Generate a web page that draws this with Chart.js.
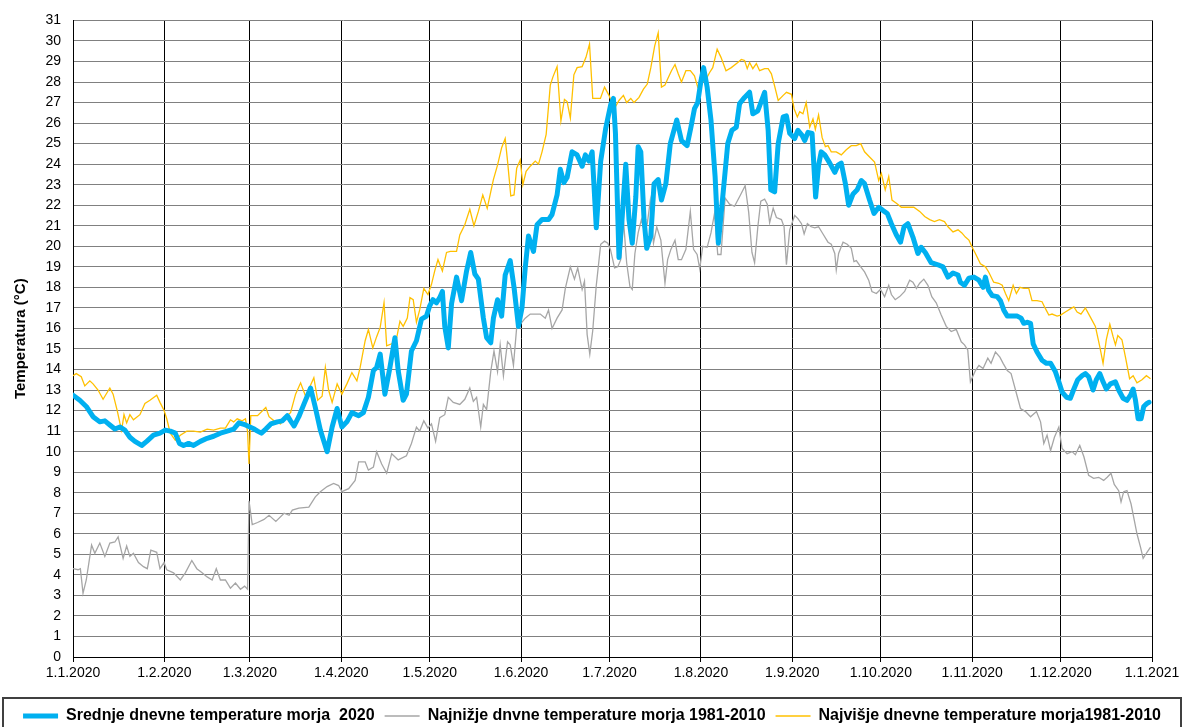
<!DOCTYPE html>
<html>
<head>
<meta charset="utf-8">
<script src="https://cdn.jsdelivr.net/npm/chart.js@4.4.1/dist/chart.umd.min.js"></script>
<style>
  html, body { margin:0; padding:0; background:#fff; overflow:hidden; }
  #wrap { width:1184px; height:727px; overflow:hidden; }
</style>
</head>
<body>
<div id="wrap"><canvas id="seaChart" width="1184" height="734"></canvas></div>
<script>
// x = day of year (0 = 1.1.2020)
const monthDays = [0, 31, 60, 91, 121, 152, 182, 213, 244, 274, 305, 335, 366];
const monthLabels = ['1.1.2020','1.2.2020','1.3.2020','1.4.2020','1.5.2020','1.6.2020','1.7.2020',
  '1.8.2020','1.9.2020','1.10.2020','1.11.2020','1.12.2020','1.1.2021'];

const seriesNames = ['Srednje dnevne temperature morja  2020',
  'Najnižje dnvne temperature morja 1981-2010',
  'Najvišje dnevne temperature morja1981-2010'];

// Srednje 2020
const meanDays = [0,2.3,4.5,6.8,9.1,10.8,12.5,14.2,15.9,17.6,19.3,21,23.3,25,27.3,29.5,31.3,33,34.7,36.1,37.5,39.2,40.9,43.2,45.5,47.7,50,52.3,54.5,56.3,58.5,
  60,61.5,62.6,63.9,65.4,67.1,69.3,71,72.7,73.8,75,76.6,78.3,80.6,82.2,83.9,86.2,87.9,89.6,91.2,92.9,94.6,96.9,98.5,100.2,101.9,103,104.2,105.8,107.5,109.2,110.3,112,113.1,114.8,116.5,118.2,119.9,121,
  122.1,123.3,124.4,125.3,126.1,127.3,128.4,130.1,131.8,133.5,134.9,136.3,137.5,139.2,140.3,141.7,142.6,144,145.4,146.6,148.3,149.6,151.1,152.3,153.4,154.5,156.2,157.4,159.1,161.3,162.5,164.2,165.3,166.5,167.6,169.3,171,172.7,173.8,175,176.1,177.5,179,180.7,182.4,183.3,
  184,185.2,186.3,187.5,188.6,189.7,190.9,191.7,192.6,193.7,194.6,196,197.1,198.5,199.6,201.1,202.6,204.8,206.4,208.3,209.6,210.8,211.9,213,213.9,215.1,216.4,217.8,218.9,220.1,222.1,223.5,225,226.1,227.8,229.5,230.6,232.3,234.6,235.8,236.7,238,239.2,240.9,242,243.1,
  244.8,245.9,247.3,248.2,249.3,250.7,251.9,252.9,253.8,255,256.7,258.4,259.5,260.6,262,263.1,264.6,266,267.4,268.5,270.2,271.7,273.3,274.7,276.2,277.6,279.3,280.7,281.9,283.2,284.9,286.6,287.7,289.1,291.1,293.4,295.1,296.8,298.5,300.2,
  301,302.4,303.9,305.6,307.3,308.7,309.5,310.6,311.8,313.5,314.6,315.7,316.9,318.6,320.3,321.6,322.5,323.6,324.8,325.7,327,328.7,330.2,331.6,333.2,334.4,335.5,337,338.3,339.5,340.8,342.3,343.4,344.5,346,347.1,348.3,349.4,350.5,351.9,353.6,354.7,356.2,357.5,358.7,359.6,360.4,361.3,362.3,363.2,364.3,365];
const meanTemp = [12.75,12.5,12.2,11.7,11.45,11.5,11.3,11.1,11.2,11.05,10.7,10.5,10.3,10.5,10.8,10.9,11.05,11.0,10.9,10.4,10.3,10.4,10.3,10.5,10.65,10.75,10.9,11.0,11.1,11.4,11.3,
  11.2,11.1,11.0,10.9,11.1,11.35,11.45,11.5,11.75,11.5,11.25,11.7,12.3,13.1,12.15,11.05,10.0,11.2,12.1,11.2,11.45,11.9,11.75,11.9,12.65,13.95,14.1,14.75,12.8,14.1,15.55,13.95,12.5,12.8,14.9,15.4,16.45,16.6,17.1,
  17.4,17.25,17.5,17.8,16.1,15.05,17.2,18.5,17.35,18.8,19.7,18.65,18.4,16.5,15.55,15.3,16.5,17.4,16.6,18.6,19.3,18.0,16.1,17.0,18.95,20.5,19.75,21.05,21.3,21.3,21.55,22.5,23.75,23.1,23.35,24.6,24.45,23.9,24.45,24.15,24.6,20.9,24.15,25.75,26.9,27.2,
  25.5,19.45,21.45,24.0,21.3,20.15,22.4,24.85,24.6,21.3,19.9,20.5,23.05,23.25,22.25,23.05,25.0,26.15,25.15,24.9,25.8,26.7,27.0,28.05,28.7,27.75,26.15,23.4,20.15,21.95,25.0,25.65,25.8,26.95,27.25,27.5,26.45,26.6,27.5,25.65,22.75,22.65,25.0,26.3,26.35,25.5,
  25.25,25.65,25.4,25.15,25.55,25.5,22.4,23.95,24.6,24.45,24.05,23.6,23.95,24.05,23.05,22.0,22.55,22.75,23.2,23.05,22.25,21.6,21.9,21.75,21.6,21.1,20.55,20.2,20.95,21.1,20.45,19.65,19.95,19.7,19.2,19.1,19.0,18.5,18.7,18.6,
  18.25,18.1,18.45,18.5,18.35,18.0,18.5,17.85,17.6,17.55,17.35,16.9,16.6,16.6,16.6,16.5,16.25,16.3,16.25,15.25,14.85,14.45,14.3,14.3,13.9,13.4,12.9,12.65,12.6,13.05,13.5,13.7,13.8,13.65,13.0,13.5,13.8,13.4,13.05,13.3,13.4,13.0,12.6,12.5,12.75,13.05,12.5,11.6,11.6,12.2,12.35,12.4];

// Najnižje 1981-2010
const minDays = [0,1.7,2.5,3.4,4.5,6.3,7.4,9.1,10.8,12.5,14.2,15.3,17,18.2,19.3,20.5,22.2,23.9,25.2,26.4,28.4,29.5,30.9,31.8,34.1,36.4,38.1,40.3,42,43.8,45.5,47.2,48.6,50,51.7,53.4,55.1,56.8,58.2,59.2,59.7,60.8,
  62.6,64.8,66.5,68.8,71.6,73.3,74.4,76.6,80,82.2,83.9,86.2,88.4,90.1,91.2,93.5,95.7,96.9,99.1,100.2,101.9,103,104.7,106.4,108.1,110.3,113.1,114.8,116.5,
  117.6,119,120.4,121.6,123,124.4,126.1,127.3,129,131.2,132.9,134.6,135.8,136.9,138.3,139.2,140.3,141.7,142.8,144,144.9,146,147.4,148.3,149.4,150.5,151.7,153.4,155.1,156.8,158.5,160.2,161.3,162.5,164.2,165.9,167,168.7,170.1,171.2,172.7,173.5,174.4,175.3,176.3,177.5,179,
  180.3,181.4,182.3,183.7,184.8,185.8,186.7,187.8,188.9,189.7,190.6,191.7,192.8,193.7,194.8,195.8,196.9,198,199.4,200.8,201.7,202.8,204.2,205.3,206.4,207.9,209.4,210.5,211.7,212.6,213.6,215.1,216.4,217.6,218.7,219.8,221.2,222.7,224.4,226.4,228,229.2,230.3,231.2,232.3,233.3,234.6,235.5,236.3,237.5,238.6,240.3,241.2,242,243.1,
  244.8,245.9,247.1,248,249.1,250.4,251.6,252.9,254.4,256.1,257.2,258.4,258.9,259.7,261.2,262.6,264,264.9,265.7,267.2,268.5,269.9,271,272.5,273.9,275.3,276.7,277.6,278.9,280.4,282.1,283.8,284.9,286.1,287.2,288.6,290,291.3,292.8,294.5,296.2,297.9,299.6,301.3,302.4,303.5,
  304.4,306.1,307.3,308.7,310.3,311.4,312.9,314.4,315.5,316.9,318.2,319.7,321.4,323.1,324.8,326.8,328.2,329.3,330.4,331.6,332.9,334.4,335.5,337.2,338.9,340,341.5,342.9,344.5,346.2,347.9,349.6,350.8,352.1,353.2,354.7,355.5,356.4,357.5,358.9,360,360.9,362.1,363,364.3,365.5];
const minTemp = [4.3,4.25,4.3,3.1,3.75,5.45,5.05,5.55,4.9,5.55,5.6,5.85,4.8,5.4,4.9,5.05,4.6,4.4,4.3,5.2,5.1,4.3,4.6,4.25,4.1,3.75,4.1,4.7,4.3,4.1,3.9,3.75,4.3,3.75,3.75,3.35,3.6,3.3,3.45,3.3,7.6,6.45,
  6.55,6.7,6.9,6.6,7.0,6.9,7.15,7.25,7.3,7.8,8.05,8.3,8.45,8.35,8.05,8.2,8.6,9.5,9.5,9.1,9.25,10.0,9.4,8.95,9.9,9.6,9.8,10.4,11.2,
  11.0,11.5,11.15,11.35,10.5,11.65,11.8,12.65,12.4,12.3,12.55,13.1,12.45,12.65,11.2,12.3,12.05,13.9,14.9,13.9,15.2,13.7,15.35,15.2,14.2,16.05,16.2,16.5,16.7,16.7,16.7,16.5,16.9,16.0,16.5,16.9,17.95,19.0,18.4,18.95,17.9,18.3,15.7,14.75,15.9,18.1,20.1,
  20.25,20.15,19.85,18.95,19.0,19.35,21.3,19.2,18.05,17.9,19.65,20.65,21.3,20.8,21.1,22.2,20.15,20.95,20.3,18.2,19.35,19.85,20.3,19.35,19.35,19.85,21.7,19.85,19.6,18.9,20.0,19.95,20.65,21.6,19.6,19.6,22.35,22.05,21.95,22.5,22.95,21.65,19.7,19.2,20.95,22.2,22.3,22.05,21.15,21.85,21.4,21.3,20.95,19.1,20.8,
  21.5,21.35,21.1,20.6,21.1,20.95,20.9,20.95,20.6,20.2,20.1,19.65,18.85,19.65,20.2,20.1,19.9,19.25,19.3,19.0,18.75,18.35,17.8,17.7,17.9,17.55,18.1,17.65,17.4,17.55,17.8,18.35,18.25,17.95,18.2,18.4,18.1,17.55,17.25,16.65,16.1,15.85,15.95,15.35,15.2,14.95,
  13.4,13.95,14.2,14.05,14.55,14.3,14.85,14.6,14.3,13.95,13.8,13.0,12.1,11.95,11.7,11.95,11.45,10.4,10.8,10.05,10.7,11.2,10.15,9.9,10.0,9.85,10.3,9.75,8.85,8.7,8.75,8.6,8.75,8.95,8.4,8.1,7.55,8.05,8.1,7.45,6.65,6.0,5.35,4.8,5.1,5.35];

// Najvišje 1981-2010
const maxDays = [0,1.1,2.8,4,5.7,6.8,8.5,10.2,12.5,13.6,15,15.9,16.5,17.3,18.2,19.3,20.5,22.7,24.4,26.1,28.4,29.5,30.9,31.8,33,34.7,36.4,38.6,40.9,43.2,45.5,47.7,50,51.7,53.4,54.5,55.7,57.4,58.5,59.2,59.7,60.3,
  62.6,65.4,66.5,68.2,70.4,72.1,73.8,75.5,77.2,78.9,80,81.7,83,84.5,85.6,86.7,87.9,89.6,91.2,92.9,94.6,96.3,97.4,99.1,100.2,101.7,103,104.2,105.5,106.4,108.1,109.8,110.9,112,113.4,114.3,115.4,116.5,
  117.6,119,120.4,121.6,122.7,123.8,125.3,126.7,128,130.1,131.2,132.9,134.6,136,137.5,139,140.5,141.7,142.6,144,145.4,146.6,147.4,148.5,149.6,150.5,151.7,152.6,153.7,155.1,156.8,157.9,159.1,160.5,161.9,162.8,164.2,165.5,166.7,167.6,168.7,169.9,171,172.7,174,175.2,176.3,177.8,
  178.9,180.3,181.8,182.9,184,185.2,186.7,187.8,189.2,190.3,192,193.5,194.8,196,197.3,198.5,199.6,200.8,201.7,203,204.2,205.3,206.4,207.9,209.4,210.8,211.9,213,214.4,215.9,217,218.5,219.8,221.5,223.3,225.5,226.7,227.8,228.7,229.5,230.6,231.8,232.9,234.6,235.8,236.9,238,239.2,240.9,242,243.7,
  244.6,245.7,246.5,247.6,248.7,249.9,251,251.8,252.9,254.1,255.2,256.1,257.2,258.9,260.6,262.3,264,265.7,267.2,268.5,270.2,271.9,273.3,274.2,275.5,276.7,277.8,279.3,281,283.2,285.2,287.2,288.9,290.6,292.2,293.9,295.6,296.8,298.5,300.2,
  301.5,302.7,303.9,305,306.1,307.8,309.5,310.6,312.3,314,315.2,316.3,317.4,318.9,320,321.2,322.5,324.2,325.3,327,328.7,329.9,331,332.1,333.8,335,336.6,338.3,339.5,340.6,341.9,343.4,345.1,346.8,348.3,349.4,350.5,351.7,352.8,353.6,354.4,355.8,357,358.4,359.6,360.9,362.6,364.1,365.5];
const maxTemp = [13.7,13.8,13.65,13.2,13.45,13.3,13.0,12.55,13.1,12.8,12.0,11.4,11.05,11.8,11.4,11.8,11.55,11.8,12.35,12.5,12.75,12.4,12.0,11.6,10.9,10.55,10.8,11.0,11.0,10.95,11.1,11.05,11.15,11.15,11.55,11.45,11.6,11.5,11.6,11.0,9.4,11.75,
  11.75,12.15,11.7,11.5,11.35,11.7,11.9,12.8,13.35,12.7,13.05,13.6,12.5,12.7,14.1,13.0,12.4,13.3,12.8,13.3,13.85,13.45,14.1,15.4,15.95,15.05,15.6,16.05,17.25,15.15,15.25,15.55,16.35,16.1,16.5,17.5,17.4,16.3,
  16.9,17.95,17.65,18.15,18.8,19.35,18.8,19.7,19.75,19.75,20.55,21.05,21.8,21.0,21.7,22.5,21.85,22.65,23.25,23.95,24.8,25.25,24.15,22.45,22.5,23.8,24.2,23.0,23.65,23.9,24.15,24.0,24.6,25.45,27.85,28.25,28.75,26.1,27.15,27.05,26.25,28.35,28.7,28.75,29.2,29.85,27.2,27.2,
  27.2,27.75,27.35,26.95,26.8,27.1,27.35,27.0,27.2,27.0,27.25,27.65,27.9,28.7,29.75,30.4,27.75,27.85,28.15,28.55,28.85,28.4,28.0,28.55,28.55,28.3,27.75,28.05,28.05,28.45,28.7,29.6,29.2,28.55,28.7,28.95,29.1,29.05,28.65,28.95,28.65,28.9,28.55,28.65,28.65,28.4,27.8,27.1,27.35,27.5,27.4,
  26.7,26.3,26.55,26.45,27.0,25.8,26.2,25.7,26.4,25.3,24.85,24.9,24.6,24.6,24.45,24.7,24.9,24.9,25.0,24.6,24.35,24.1,23.2,23.55,22.75,23.4,22.25,22.1,21.9,21.9,21.9,21.7,21.45,21.3,21.2,21.3,21.2,20.95,20.7,20.8,
  20.65,20.45,20.3,19.95,19.65,19.15,19.0,18.75,18.25,18.2,18.1,17.7,17.35,18.1,17.7,18.0,17.95,17.95,17.35,17.35,17.3,16.95,16.65,16.7,16.6,16.65,16.8,16.95,17.05,16.8,16.7,17.0,16.55,16.1,15.1,14.3,15.45,16.2,15.6,15.2,15.65,15.45,14.6,13.55,13.7,13.35,13.5,13.7,13.55];

const toPoints = (days, temps) => days.map((d, i) => ({ x: d, y: temps[i] }));
const font = "'Liberation Sans', Arial, sans-serif";

// box round the legend, like the spreadsheet original
const legendFrame = {
  id: 'legendFrame',
  afterDraw(chart) {
    const lg = chart.legend, ctx = chart.ctx;
    ctx.save();
    ctx.strokeStyle = '#404040';
    ctx.lineWidth = 2;
    ctx.strokeRect(3, lg.top, chart.width - 6, 60);
    ctx.restore();
  }
};

new Chart(document.getElementById('seaChart'), {
  type: 'line',
  data: {
    datasets: [
      { label: seriesNames[0], data: toPoints(meanDays, meanTemp), borderColor: '#00B0F0', backgroundColor: '#00B0F0',
        borderWidth: 5, borderJoinStyle: 'round', borderCapStyle: 'round' },
      { label: seriesNames[1], data: toPoints(minDays, minTemp), borderColor: '#A6A6A6', backgroundColor: '#A6A6A6', borderWidth: 1.3 },
      { label: seriesNames[2], data: toPoints(maxDays, maxTemp), borderColor: '#FFC000', backgroundColor: '#FFC000', borderWidth: 1.3 }
    ]
  },
  options: {
    responsive: false,
    animation: false,
    parsing: false,
    elements: { point: { radius: 0 }, line: { tension: 0 } },
    layout: { padding: { left: 0, right: 0, top: 19, bottom: 0 } },
    plugins: {
      tooltip: { enabled: false },
      legend: {
        position: 'bottom',
        labels: {
          usePointStyle: true, pointStyle: 'line', pointStyleWidth: 35,
          padding: 10, color: '#000',
          font: { family: font, size: 16, weight: 'bold' }
        }
      }
    },
    scales: {
      x: {
        type: 'linear', min: 0, max: 366,
        afterBuildTicks: s => { s.ticks = monthDays.map(v => ({ value: v })); },
        afterFit: s => { s.height = 41; s.paddingRight = 32; },
        ticks: {
          autoSkip: false, maxRotation: 0, padding: 3, color: '#000',
          font: { family: font, size: 14 },
          callback: v => monthLabels[monthDays.indexOf(v)]
        },
        grid: { color: '#000', lineWidth: 1, tickLength: 5 },
        border: { color: '#000', width: 1 }
      },
      y: {
        min: 0, max: 31,
        afterFit: s => { s.width = 73; },
        ticks: { stepSize: 1, autoSkip: false, padding: 12, color: '#000', font: { family: font, size: 14 } },
        grid: { color: '#808080', lineWidth: 1, drawTicks: false },
        border: { color: '#000', width: 1 },
        title: { display: true, text: 'Temperatura (°C)', color: '#000',
          font: { family: font, size: 15, weight: 'bold' }, padding: { top: 12, bottom: 0 } }
      }
    }
  },
  plugins: [legendFrame]
});
</script>
</body>
</html>
